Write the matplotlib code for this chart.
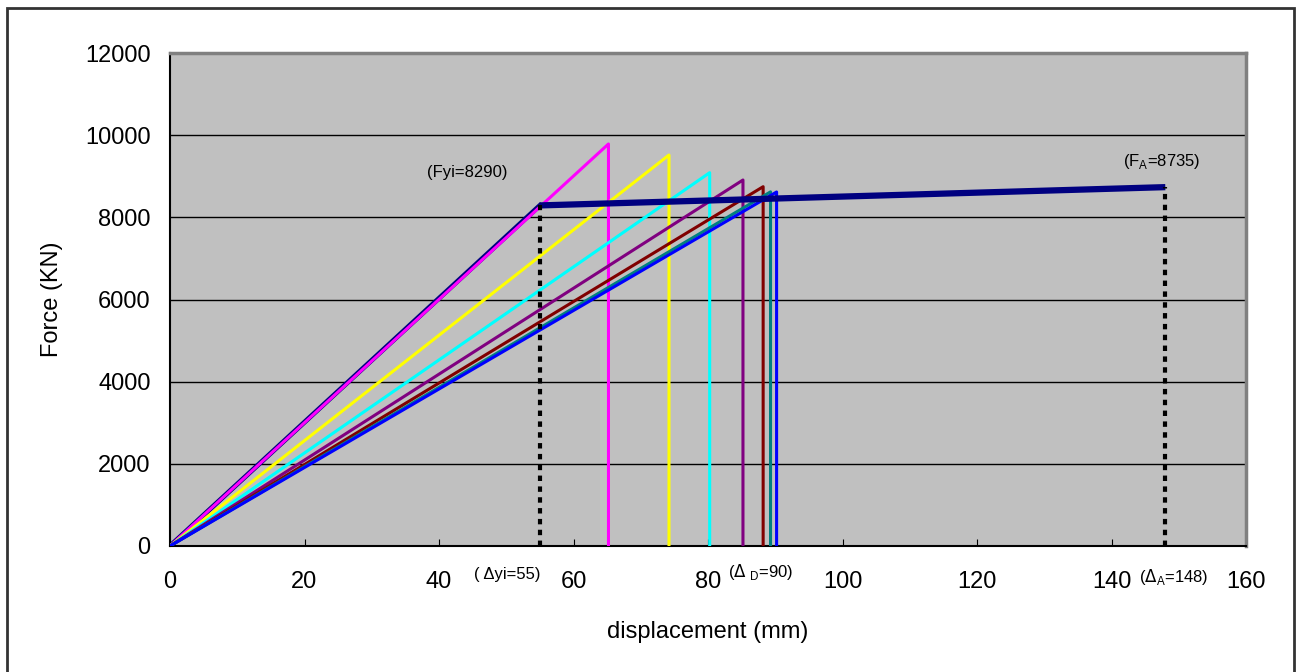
import matplotlib.pyplot as plt
import matplotlib.patches as patches

plt.rcParams['font.family'] = ['Liberation Sans', 'DejaVu Sans']

# curva bilineal (capacidad)
cap_x = [0, 55, 148]
cap_y = [0, 8290, 8735]

# curvas de demanda: desplazamiento pico, fuerza pico, color
dem_x = [65.2, 74.2, 80.25, 85.2, 88.2, 89.3, 90.2]
dem_y = [9786, 9517, 9087, 8909, 8746, 8620, 8617]
dem_colors = ['#FF00FF', '#FFFF00', '#00FFFF', '#800080', '#800000', '#008080', '#0000FF']

xticks = [0, 20, 40, 60, 80, 100, 120, 140, 160]
yticks = [0, 2000, 4000, 6000, 8000, 10000, 12000]

fig = plt.figure(figsize=(13.03, 6.72), dpi=100)
ax = fig.add_axes([170 / 1303, 1 - 546 / 672, 1076 / 1303, 493 / 672])
ax.set_facecolor('#C0C0C0')

# marco exterior
borde = patches.Rectangle((7 / 1303, -0.05), 1287 / 1303, 1.05 - 8 / 672,
                          transform=fig.transFigure, fill=False,
                          edgecolor='#333333', lw=2, clip_on=False)
fig.patches.append(borde)

for y in yticks[1:-1]:
    ax.axhline(y, color='black', lw=1, zorder=1)

# tramo elástico de la capacidad (fino)
ax.plot(cap_x[:2], cap_y[:2], color='#000080', lw=3.5, zorder=2)

for x, y, c in zip(dem_x, dem_y, dem_colors):
    ax.plot([0, x, x], [0, y, 0], color=c, lw=2.2, zorder=3)

# tramo plástico (grueso)
ax.plot(cap_x[1:], cap_y[1:], color='#000080', lw=4.5, zorder=4, solid_capstyle='butt')

# líneas punteadas
ax.plot([cap_x[1], cap_x[1]], [0, cap_y[1]], color='black', lw=3,
        ls=(0, (1.3, 1.3)), zorder=5)
ax.plot([cap_x[2], cap_x[2]], [0, cap_y[2]], color='black', lw=3,
        ls=(0, (1.3, 1.3)), zorder=5)

ax.text(44.2, 9080, '(Fyi=8290)', fontsize=12, ha='center', va='center')
ax.text(147.5, 9350, r'(F$_\mathregular{A}$=8735)', fontsize=12, ha='center', va='center')

ax.text(50.1, -700, '( \u0394yi=55)', fontsize=12, ha='center', va='center', clip_on=False)
ax.text(87.8, -630, r'($\Delta$ $_\mathregular{D}$=90)', fontsize=12, ha='center', va='center', clip_on=False)
ax.text(149.2, -760, r'($\Delta$$_\mathregular{A}$=148)', fontsize=12, ha='center', va='center', clip_on=False)

ax.set_xlim(0, 160)
ax.set_ylim(0, 12000)
ax.set_xticks(xticks)
ax.set_yticks(yticks)
ax.tick_params(axis='x', labelsize=17, length=5, direction='in', pad=18)
ax.tick_params(axis='y', labelsize=17, length=0, pad=14)
ax.set_xlabel('displacement (mm)', fontsize=17, labelpad=20)
ax.set_ylabel('Force (KN)', fontsize=17, labelpad=16)

for lado in ['top', 'right']:
    ax.spines[lado].set_color('#808080')
    ax.spines[lado].set_linewidth(2.5)
ax.spines['bottom'].set_linewidth(1.5)
ax.spines['left'].set_linewidth(1.5)

fig.savefig('out.png', dpi=100)
